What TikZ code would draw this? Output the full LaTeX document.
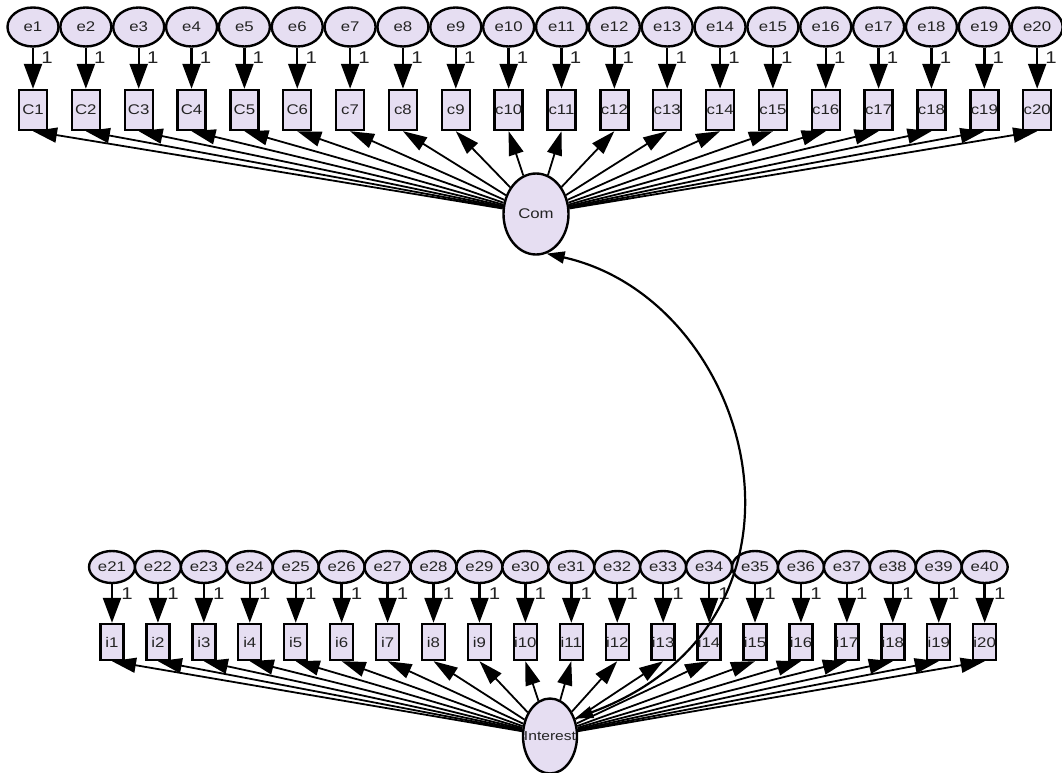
\documentclass[tikz,border=0pt]{standalone}
\usepackage{fontspec}
\setmainfont[FakeStretch=1.2]{Liberation Sans}
\usetikzlibrary{shapes.geometric,arrows.meta}
\definecolor{lav}{RGB}{230,222,242}
\definecolor{txt}{RGB}{35,35,35}
\begin{document}
\begin{tikzpicture}[x=1pt,y=-1pt,
  lat/.style={ellipse,draw=black,line width=2.4pt,fill=lav,inner sep=0pt},
  obs/.style={rectangle,draw=black,line width=2.4pt,fill=lav,inner sep=0pt},
  lbl/.style={font=\fontsize{14}{14}\selectfont,text=txt},
  load/.style={line width=2.4pt,-{Triangle[length=25pt,width=18pt]}},
  fan/.style={line width=1.8pt,-{Triangle[length=24pt,width=15pt]}},
  cov/.style={line width=2.2pt,{Triangle[length=18pt,width=12pt]}-{Triangle[length=18pt,width=12pt]}},
  one/.style={font=\fontsize{17}{17}\selectfont,text=txt,inner sep=0pt}]
\useasboundingbox (0,0) rectangle (1062,773);
\fill[white] (0,0) rectangle (1062,773);
% latent factors
\node[lat,lbl,minimum width=65pt,minimum height=81pt] (com) at (536,214) {\makebox[0pt]{Com}};
\node[lat,minimum width=54pt,minimum height=75pt] (interest) at (550,736) {};
% top block
\foreach \k in {1,...,20}{
  \pgfmathsetmacro\xx{33+52.85*(\k-1)}
  \node[lat,lbl,minimum width=51pt,minimum height=39pt] (e\k) at (\xx,27) {\makebox[0pt]{e\k}};
  \node[obs,lbl,minimum width=28pt,minimum height=40pt] (c\k) at (\xx,110) {\makebox[0pt]{\ifnum\k<7 C\k\else c\k\fi}};
  \draw[load] (e\k) -- (c\k);
  \node[one] (w\k) at (\xx+14,58) {1};
}
% bottom block
\foreach \k in {1,...,20}{
  \pgfmathsetmacro\xx{112+45.93*(\k-1)}
  \pgfmathtruncatemacro\j{\k+20}
  \node[lat,lbl,minimum width=46pt,minimum height=32pt] (e\j) at (\xx,567) {\makebox[0pt]{e\j}};
  \node[obs,lbl,minimum width=23pt,minimum height=36pt] (i\k) at (\xx,642) {\makebox[0pt]{i\k}};
  \draw[load] (e\j) -- (i\k);
  \node[one] (w\j) at (\xx+15,594) {1};
}
% loadings
\foreach \k in {1,...,20}{
  \draw[fan] (com) -- (c\k.south);
  \draw[fan] (interest) -- (i\k.south);
}
% covariance
\draw[cov] (com.-75) .. controls (755,300) and (840,620) .. (interest.35);
\node[lbl,font=\fontsize{13}{13}\selectfont,inner sep=0pt] (interestlabel) at (interest.center) {Interest};
\end{tikzpicture}
\end{document}
